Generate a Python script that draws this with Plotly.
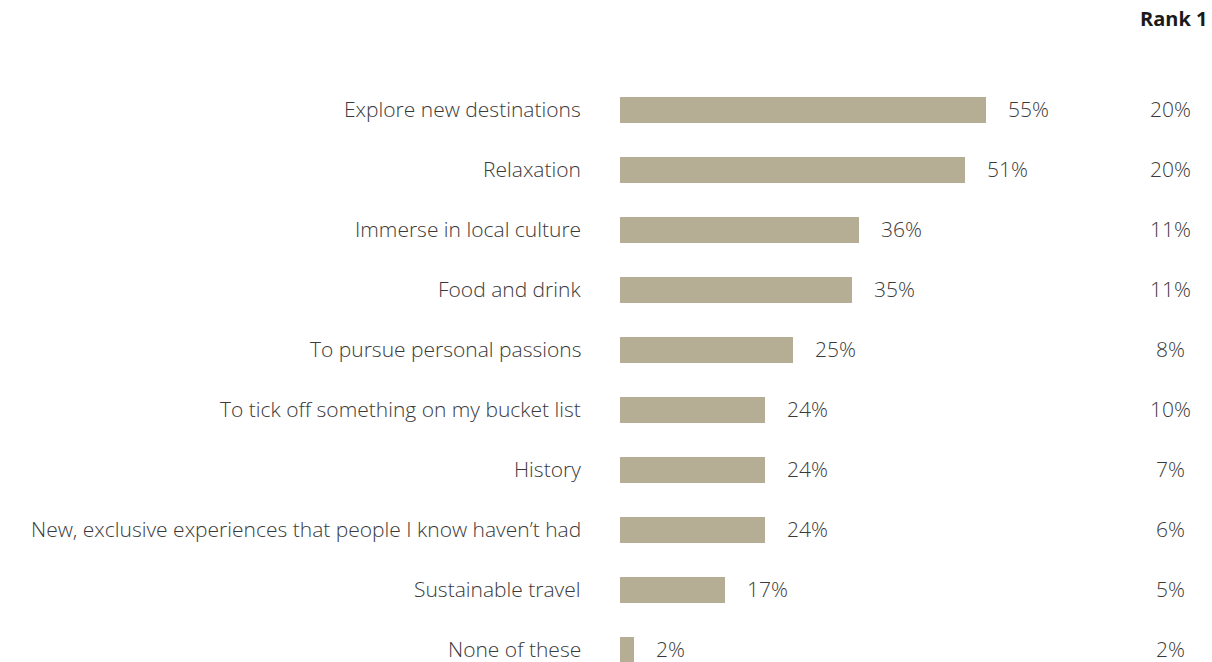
import plotly.graph_objects as go

categories = [
    "Explore new destinations",
    "Relaxation",
    "Immerse in local culture",
    "Food and drink",
    "To pursue personal passions",
    "To tick off something on my bucket list",
    "History",
    "New, exclusive experiences that people I know haven\u2019t had",
    "Sustainable travel",
    "None of these",
]
bar_values = [55.1, 52.0, 36.0, 35.0, 26.0, 21.9, 21.9, 21.9, 15.8, 2.1]
value_labels = ["55%", "51%", "36%", "35%", "25%", "24%", "24%", "24%", "17%", "2%"]
rank1_labels = ["20%", "20%", "11%", "11%", "8%", "10%", "7%", "6%", "5%", "2%"]

FONT = "Open Sans"
TXT = "#3a3a3a"
BAR = "#b5ae95"
FS = 21

ypos = list(range(len(categories)))
px_per_unit = 6.64

fig = go.Figure()
fig.add_trace(go.Bar(
    x=bar_values, y=ypos, orientation="h", width=0.42,
    marker=dict(color=BAR, line=dict(width=0)),
    hoverinfo="skip",
))

tfont = dict(family=FONT, size=FS, color=TXT, weight=300)
ann = []
for i, (c, v, vl, r) in enumerate(zip(categories, bar_values, value_labels, rank1_labels)):
    ann.append(dict(x=0, xref="x", y=i, yref="y", text=c, showarrow=False,
                    xanchor="right", xshift=-37, yshift=1, font=tfont))
    ann.append(dict(x=v, xref="x", y=i, yref="y", text=vl, showarrow=False,
                    xanchor="left", xshift=20, yshift=1, font=tfont))
    ann.append(dict(x=(1170 - 620) / px_per_unit, xref="x", y=i, yref="y", text=r,
                    showarrow=False, xanchor="center", yshift=1, font=tfont))

ann.append(dict(x=1, xref="paper", y=1 + (80 - 19) / 582, yref="paper",
                text="<b>Rank 1</b>", showarrow=False,
                xanchor="right", yanchor="middle", xshift=-3,
                font=dict(family=FONT, size=20, color="#1a1a1a")))

fig.update_layout(
    width=1212, height=662,
    margin=dict(l=620, r=0, t=80, b=0),
    paper_bgcolor="white", plot_bgcolor="white",
    showlegend=False,
    xaxis=dict(range=[0, 592 / px_per_unit], visible=False, fixedrange=True),
    yaxis=dict(range=[9.2, -0.5], visible=False, fixedrange=True),
    annotations=ann,
    bargap=0,
)
fig.write_html("out.html")
